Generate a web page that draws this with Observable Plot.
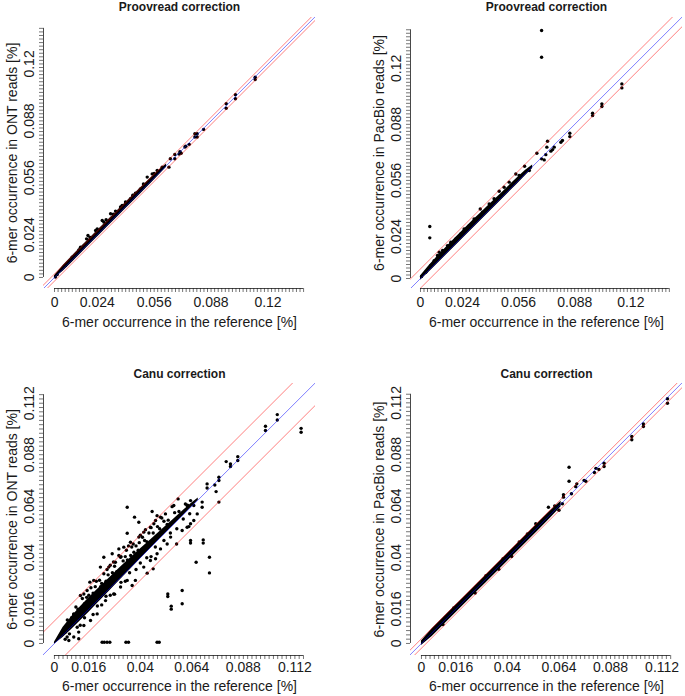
<!DOCTYPE html>
<html><head><meta charset="utf-8">
<script src="https://cdn.jsdelivr.net/npm/d3@7"></script>
<script src="https://cdn.jsdelivr.net/npm/@observablehq/plot@0.6"></script>
<style>
body{margin:0;background:#fff;}
#wrap{position:relative;width:685px;height:696px;overflow:hidden;}
.panel{position:absolute;}
</style></head><body><div id="wrap"></div>
<script>
// ---------- titles / labels ----------
const titles = ["Proovread correction", "Proovread correction", "Canu correction", "Canu correction"];
const yLabels = ["6-mer occurrence in ONT reads [%]", "6-mer occurrence in PacBio reads [%]",
                 "6-mer occurrence in ONT reads [%]", "6-mer occurrence in PacBio reads [%]"];
const xLabel = "6-mer occurrence in the reference [%]";
const tickLabelsTop = [0, 0.024, 0.056, 0.088, 0.12];
const tickLabelsBottom = [0, 0.016, 0.04, 0.064, 0.088, 0.112];
// half-width of the red tolerance lines around y = x
const bandOffsets = [0.002, 0.0055, 0.0105, 0.0022];

// ---------- Panel 1: Proovread, ONT ----------
const p1BandX  = [0.000, 0.005, 0.010, 0.015, 0.020, 0.025, 0.030, 0.035, 0.040, 0.045, 0.050, 0.055, 0.060, 0.063];
const p1BandLo = [-0.0006, 0.0036, 0.0086, 0.0136, 0.0186, 0.0236, 0.0286, 0.0336, 0.0386, 0.0436, 0.0486, 0.0537, 0.0588, 0.0620];
const p1BandHi = [0.0010, 0.0068, 0.0120, 0.0172, 0.0222, 0.0272, 0.0322, 0.0372, 0.0421, 0.0470, 0.0519, 0.0568, 0.0614, 0.0638];
const p1X = [0.0005,0.0015,0.0062,0.0099,0.0137,0.0146,0.0180,0.0188,0.0200,0.0231,0.0240,0.0268,0.0277,0.0290,0.0315,0.0330,0.0343,0.0371,0.0380,0.0399,0.0427,0.0440,0.0455,0.0483,0.0500,0.0521,0.0549,0.0560,0.0577,0.0605,
             0.0643,0.0651,0.0676,0.0676,0.0700,0.0705,0.0712,0.0733,0.0738,0.0757,0.0789,0.0789,0.0802,0.0802,0.0838,0.0965,0.0965,0.1017,0.1017,0.1128,0.1128];
const p1Y = [0.0003,0.0017,0.0067,0.0114,0.0155,0.0170,0.0217,0.0236,0.0225,0.0264,0.0273,0.0320,0.0312,0.0325,0.0358,0.0355,0.0373,0.0396,0.0405,0.0424,0.0442,0.0462,0.0474,0.0498,0.0525,0.0564,0.0582,0.0585,0.0601,0.0620,
             0.0620,0.0667,0.0691,0.0667,0.0694,0.0707,0.0698,0.0733,0.0738,0.0748,0.0808,0.0789,0.0808,0.0789,0.0832,0.0976,0.0951,0.1027,0.1004,0.1125,0.1112];

// ---------- Panel 2: Proovread, PacBio ----------
const p2BandX  = [0.000, 0.005, 0.010, 0.015, 0.020, 0.025, 0.030, 0.035, 0.040, 0.045, 0.050, 0.055, 0.060, 0.064];
const p2BandLo = [-0.0010, 0.0037, 0.0087, 0.0137, 0.0187, 0.0237, 0.0287, 0.0337, 0.0387, 0.0437, 0.0487, 0.0537, 0.0588, 0.0628];
const p2BandHi = [0.0015, 0.0075, 0.0130, 0.0182, 0.0233, 0.0283, 0.0332, 0.0380, 0.0428, 0.0476, 0.0524, 0.0572, 0.0618, 0.0648];
const p2X = [0.0006,0.0030,0.0059,0.0078,0.0097,0.0107,0.0126,0.0154,0.0173,0.0202,0.0230,0.0249,0.0278,0.0306,0.0341,0.0354,0.0392,0.0420,0.0449,0.0477,0.0506,0.0544,0.0563,0.0594,0.0621,
             0.0664,0.0691,0.0706,0.0715,0.0725,0.0721,0.0744,0.0754,0.0763,0.0801,0.0810,0.0852,0.0852,0.0982,0.0982,0.1035,0.1035,0.1149,0.1149,
             0.0691,0.0691,0.0053,0.0053];
const p2Y = [0.0011,0.0036,0.0074,0.0102,0.0131,0.0150,0.0160,0.0188,0.0207,0.0226,0.0255,0.0283,0.0302,0.0340,0.0397,0.0378,0.0426,0.0455,0.0498,0.0521,0.0550,0.0597,0.0588,0.0641,0.0616,
             0.0715,0.0683,0.0677,0.0707,0.0784,0.0750,0.0727,0.0736,0.0750,0.0778,0.0788,0.0829,0.0810,0.0944,0.0930,0.0997,0.0982,0.1111,0.1088,
             0.1416,0.1263,0.0297,0.0232];

// ---------- Panel 3: Canu, ONT ----------
const p3BandX  = [0.000, 0.004, 0.008, 0.012, 0.016, 0.020, 0.025, 0.030, 0.035, 0.040, 0.045, 0.050, 0.055, 0.060, 0.064, 0.067];
const p3BandLo = [-0.0004, 0.0028, 0.0065, 0.0105, 0.0145, 0.0186, 0.0238, 0.0290, 0.0342, 0.0394, 0.0445, 0.0496, 0.0547, 0.0597, 0.0638, 0.0668];
const p3BandHi = [0.0006, 0.0075, 0.0125, 0.0170, 0.0212, 0.0252, 0.0300, 0.0348, 0.0395, 0.0440, 0.0485, 0.0530, 0.0575, 0.0620, 0.0655, 0.0678];
const p3X = [0.0165,0.0121,0.0230,0.0269,0.0214,0.0253,0.0284,0.0308,0.0183,0.0152,0.0137,0.0090,0.0075,0.0098,0.0051,0.0300,0.0323,0.0354,0.0367,0.0393,0.0416,0.0447,0.0463,0.0424,0.0471,0.0494,0.0517,0.0548,0.0576,0.0556,0.0618,0.0634,
             0.0339,0.0373,0.0393,0.0339,0.0455,0.0478,
             0.0106,0.0113,0.0059,0.0137,0.0168,0.0199,0.0238,0.0276,0.0308,0.0339,0.0362,0.0377,0.0432,0.0460,0.0416,0.0447,0.0478,0.0471,0.0494,0.0525,0.0541,0.0569,0.0595,0.0618,0.0626,0.0634,0.0649,0.0665,0.0688,0.0688,0.0649,
             0.0067,0.0113,0.0090,
             0.0693,0.0693,0.0634,0.0634,0.0660,0.0722,0.0722,0.0528,0.0528,0.0544,0.0544,0.0595,0.0595,
             0.0222,0.0232,0.0245,0.0258,0.0333,0.0345,0.0478,0.0488,
             0.0711,0.0711,0.0747,0.0753,0.0766,0.0766,0.0766,0.0800,0.0820,0.0820,0.0854,0.0854,0.0983,0.0983,0.1038,0.1038,0.1149,0.1149,
             0.006,0.008,0.010,0.011,0.013,0.014,0.015,0.017,0.018,0.019,0.020,0.021,0.022,0.023,0.024,0.025,0.026,0.027,0.028,0.029,0.031,0.032,0.033,0.034,0.036,0.037,0.038,0.039,0.041,0.042,0.043,0.044,0.046,0.048,0.049,0.051,0.053,0.056,0.058,0.061,0.062,
             0.005,0.007,0.012,0.014,0.018,0.020,0.022,0.024,0.026,0.028,0.031,0.033,0.035,0.038,0.040,0.043,0.045,0.047,0.051,0.054,0.057,0.060,0.063,
             0.009,0.016,0.0195,0.0245,0.0275,0.030,0.0345,0.0355,0.040,0.045,0.050,0.0525,0.0215,0.0125,0.0335,0.0395];
const p3Y = [0.0286,0.0224,0.0402,0.0418,0.0356,0.0356,0.0379,0.0402,0.0294,0.0247,0.0231,0.0138,0.0107,0.0115,0.0053,0.0441,0.0449,0.0472,0.0464,0.0496,0.0519,0.0542,0.0558,0.0530,0.0573,0.0589,0.0604,0.0638,0.0674,0.0643,0.0643,0.0666,
             0.0635,0.0589,0.0565,0.0514,0.0615,0.0596,
             0.0076,0.0053,0.0030,0.0084,0.0107,0.0138,0.0200,0.0231,0.0263,0.0294,0.0270,0.0294,0.0328,0.0348,0.0356,0.0387,0.0418,0.0395,0.0441,0.0464,0.0496,0.0464,0.0527,0.0542,0.0545,0.0558,0.0573,0.0604,0.0659,0.0635,0.0643,
             0.0014,0.0022,0.0030,
             0.0483,0.0468,0.0480,0.0468,0.0379,0.0402,0.0329,0.0231,0.0219,0.0174,0.0160,0.0247,0.0185,
             0.0006,0.0006,0.0006,0.0006,0.0006,0.0006,0.0006,0.0006,
             0.0744,0.0725,0.0739,0.0708,0.0775,0.0760,0.0659,0.0848,0.0837,0.0825,0.0871,0.0853,0.1013,0.0993,0.1067,0.1042,0.1003,0.0985,
             0.011,0.012,0.017,0.016,0.021,0.0185,0.0215,0.026,0.0235,0.0265,0.024,0.0295,0.028,0.0325,0.029,0.032,0.0365,0.033,0.036,0.0335,0.0405,0.0385,0.0405,0.039,0.045,0.0425,0.0455,0.0435,0.0495,0.048,0.0475,0.0515,0.0515,0.0545,0.0535,0.057,0.0575,0.061,0.0615,0.065,0.0645,
             0.002,0.0045,0.0085,0.012,0.0135,0.0175,0.018,0.022,0.0225,0.023,0.0285,0.029,0.033,0.0345,0.0375,0.040,0.0405,0.045,0.048,0.0515,0.0535,0.058,0.0605,
             0.0135,0.0225,0.029,0.0345,0.038,0.041,0.0455,0.041,0.0505,0.054,0.0585,0.0555,0.0265,0.016,0.0435,0.047];

// ---------- Panel 4: Canu, PacBio ----------
const p4BandX  = [0.000, 0.005, 0.010, 0.015, 0.020, 0.025, 0.030, 0.035, 0.040, 0.045, 0.050, 0.055, 0.060, 0.065];
const p4BandLo = [-0.0010, 0.0032, 0.0082, 0.0132, 0.0182, 0.0232, 0.0282, 0.0332, 0.0382, 0.0432, 0.0482, 0.0532, 0.0583, 0.0636];
const p4BandHi = [0.0012, 0.0068, 0.0118, 0.0168, 0.0218, 0.0268, 0.0318, 0.0368, 0.0418, 0.0468, 0.0518, 0.0568, 0.0617, 0.0662];
const p4X = [0.0100,0.0150,0.0250,0.0300,0.0360,0.0380,0.0420,0.0455,0.0493,0.0532,0.0540,0.0591,0.0620,0.0640,0.0656,0.0661,0.0661,0.0687,0.0687,0.0698,0.0718,0.0723,0.0757,0.0765,
             0.0805,0.0812,0.0826,0.0850,0.0850,0.0979,0.0979,0.1033,0.1033,0.1145,0.1145];
const p4Y = [0.0088,0.0165,0.0235,0.0315,0.0345,0.0395,0.0405,0.0472,0.0510,0.0557,0.0550,0.0634,0.0640,0.0620,0.0650,0.0692,0.0681,0.0820,0.0755,0.0697,0.0730,0.0743,0.0759,0.0755,
             0.0796,0.0815,0.0810,0.0839,0.0824,0.0963,0.0948,0.1022,0.1010,0.1139,0.1118];

// ---------- layout of the four panels ----------
const panels = [
  {left: 0,   top: 0,   width: 342, height: 348, mL: 43, mR: 27, mT: 17, mB: 60, tickDy: 14.5, titleXDy: 34,
   xDomain: [-0.0062, 0.1467], yDomain: [-0.0062, 0.1461], axisMax: 0.14, labels: tickLabelsTop,
   bandX: p1BandX, bandLo: p1BandLo, bandHi: p1BandHi, px: p1X, py: p1Y},
  {left: 342, top: 0,   width: 343, height: 348, mL: 68, mR: 3,  mT: 17, mB: 60, tickDy: 14.5, titleXDy: 34,
   xDomain: [-0.0057, 0.1495], yDomain: [-0.0057, 0.1490], axisMax: 0.142, labels: tickLabelsTop,
   bandX: p2BandX, bandLo: p2BandLo, bandHi: p2BandHi, px: p2X, py: p2Y},
  {left: 0,   top: 348, width: 342, height: 348, mL: 43, mR: 27, mT: 35, mB: 41, tickDy: 12.5, titleXDy: 31.5,
   xDomain: [-0.0051, 0.1216], yDomain: [-0.0056, 0.1212], axisMax: 0.116, labels: tickLabelsBottom,
   bandX: p3BandX, bandLo: p3BandLo, bandHi: p3BandHi, px: p3X, py: p3Y},
  {left: 342, top: 348, width: 343, height: 348, mL: 68, mR: 3,  mT: 35, mB: 41, tickDy: 12.5, titleXDy: 31.5,
   xDomain: [-0.0051, 0.1215], yDomain: [-0.0056, 0.1210], axisMax: 0.116, labels: tickLabelsBottom,
   bandX: p4BandX, bandLo: p4BandLo, bandHi: p4BandHi, px: p4X, py: p4Y}
];

const ink = "#1a1a1a";
const wrap = document.getElementById("wrap");

panels.forEach((c, k) => {
  const nT = Math.round(c.axisMax / 0.002);
  const ticks = d3.range(0, nT + 1).map(i => +(i * 0.002).toFixed(4));
  const band = c.bandX.map((x, i) => ({x, lo: c.bandLo[i], hi: c.bandHi[i]}));
  const pts = c.px.map((x, i) => ({x, y: c.py[i]}));
  const off = bandOffsets[k];
  const diag = (o) => [{x1: -1, y1: -1 + o, x2: 1, y2: 1 + o}];
  const lineOpts = {x1: "x1", y1: "y1", x2: "x2", y2: "y2", clip: true, strokeWidth: 1, strokeOpacity: 0.5};
  const titleDy = c.mT > 20 ? -9.5 : -10;

  const svg = Plot.plot({
    width: c.width, height: c.height,
    marginLeft: c.mL, marginRight: c.mR, marginTop: c.mT, marginBottom: c.mB,
    x: {domain: c.xDomain}, y: {domain: c.yDomain},
    style: {fontFamily: "'Liberation Sans', Arial, Helvetica, sans-serif", fontSize: "14px", color: ink, background: "white", overflow: "visible"},
    marks: [
      Plot.areaY(band, {x: "x", y1: "lo", y2: "hi", fill: "black", curve: "linear"}),
      Plot.dot(pts, {x: "x", y: "y", r: 1.7, fill: "black"}),
      Plot.link(diag(off), {...lineOpts, stroke: "red"}),
      Plot.link(diag(-off), {...lineOpts, stroke: "red"}),
      Plot.link(diag(0), {...lineOpts, stroke: "blue"}),
      // axis lines
      Plot.ruleY([c.yDomain[0]], {x1: 0, x2: c.axisMax, stroke: ink, strokeWidth: 0.8}),
      Plot.ruleX([c.xDomain[0]], {y1: 0, y2: c.axisMax, stroke: ink, strokeWidth: 0.8}),
      // ticks
      Plot.axisX(ticks, {anchor: "bottom", tickSize: 4, tickFormat: () => "", label: null, stroke: ink, strokeWidth: 0.6}),
      Plot.axisY(ticks, {anchor: "left", tickSize: 4, tickFormat: () => "", label: null, stroke: ink, strokeWidth: 0.6}),
      // tick labels
      Plot.text(c.labels, {x: d => d, y: c.yDomain[0], dy: c.tickDy, text: d => String(d), fill: ink, fontSize: 14, lineAnchor: "middle"}),
      Plot.text(c.labels, {x: c.xDomain[0], y: d => d, dx: -13.5, rotate: -90, text: d => String(d), fill: ink, fontSize: 14, textAnchor: "middle", lineAnchor: "middle"}),
      // axis titles
      Plot.text([xLabel], {frameAnchor: "bottom", dy: c.titleXDy, fill: ink, fontSize: 14, textAnchor: "middle", lineAnchor: "middle"}),
      Plot.text([yLabels[k]], {frameAnchor: "left", dx: -30.5, rotate: -90, fill: ink, fontSize: 14, textAnchor: "middle", lineAnchor: "middle"}),
      // panel title
      Plot.text([titles[k]], {frameAnchor: "top", dy: titleDy, fill: ink, fontSize: 12, fontWeight: "bold", textAnchor: "middle", lineAnchor: "middle"})
    ]
  });
  const div = document.createElement("div");
  div.className = "panel";
  div.style.left = c.left + "px";
  div.style.top = c.top + "px";
  div.appendChild(svg);
  wrap.appendChild(div);
});
</script>
</body></html>
